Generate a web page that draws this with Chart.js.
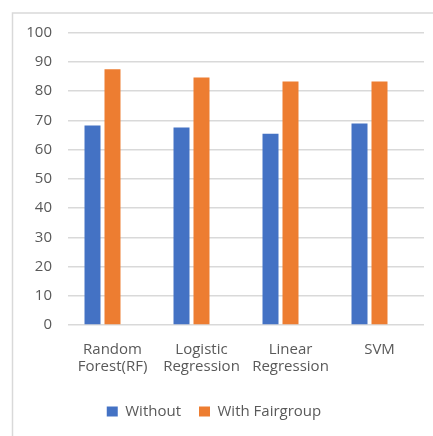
<!DOCTYPE html>
<html>
<head>
<meta charset="utf-8">
<script src="https://cdn.jsdelivr.net/npm/chart.js@4.4.1/dist/chart.umd.min.js"></script>
<style>
  html, body { margin: 0; padding: 0; background: #ffffff; }
  #wrap { width: 433px; height: 436px; position: relative; }
</style>
</head>
<body>
<div id="wrap"><canvas id="c" width="433" height="436"></canvas></div>
<script>
// Accuracy (%) per model
const categories = [["Random", "Forest(RF)"], ["Logistic", "Regression"], ["Linear", "Regression"], "SVM"];
const withoutValues = [68.2, 67.5, 65.4, 68.9];
const fairgroupValues = [87.4, 84.6, 83.25, 83.25];
const seriesNames = ["Without", "With Fairgroup"];
// third series is left empty; it keeps its slot in each group
const reservedValues = [null, null, null, null];

const textColor = "#595959";
const gridColor = "#d9d9d9";
const fontFamily = "'Open Sans', 'Liberation Sans', sans-serif";

// Outer frame of the chart (left and top edges)
const framePlugin = {
  id: "frame",
  beforeDraw(chart) {
    const ctx = chart.ctx;
    ctx.save();
    ctx.strokeStyle = gridColor;
    ctx.lineWidth = 1.5;
    ctx.beginPath();
    ctx.moveTo(12.5, chart.height);
    ctx.lineTo(12.5, 13);
    ctx.lineTo(chart.width, 13);
    ctx.stroke();
    ctx.restore();
  }
};

new Chart(document.getElementById("c"), {
  type: "bar",
  data: {
    labels: categories,
    datasets: [
      { label: seriesNames[0], data: withoutValues, backgroundColor: "#4472C4" },
      { label: seriesNames[1], data: fairgroupValues, backgroundColor: "#ED7D31" },
      { label: "", data: reservedValues, backgroundColor: "rgba(0,0,0,0)" }
    ]
  },
  options: {
    responsive: false,
    animation: false,
    devicePixelRatio: 1,
    layout: { padding: { left: 4, right: 9, top: 32.5, bottom: 7 } },
    datasets: {
      bar: { categoryPercentage: 0.674, barPercentage: 0.8 }
    },
    scales: {
      x: {
        grid: { display: false, drawTicks: false },
        border: { display: false },
        ticks: {
          color: textColor,
          font: { family: fontFamily, size: 15, lineHeight: 1.15 },
          padding: 16,
          maxRotation: 0,
          autoSkip: false
        },
        afterFit(scale) { scale.height = 61; }
      },
      y: {
        min: 0,
        max: 100,
        grid: { color: gridColor, lineWidth: 1.5, drawTicks: false },
        border: { display: false },
        ticks: {
          stepSize: 10,
          color: textColor,
          font: { family: fontFamily, size: 15 },
          padding: 16
        },
        afterFit(scale) { scale.width = 64; }
      }
    },
    plugins: {
      legend: {
        position: "bottom",
        labels: {
          color: textColor,
          font: { family: fontFamily, size: 15 },
          boxWidth: 11,
          boxHeight: 10,
          padding: 18,
          filter: (item) => item.text !== ""
        }
      },
      tooltip: { enabled: false }
    }
  },
  plugins: [framePlugin]
});
</script>
</body>
</html>
